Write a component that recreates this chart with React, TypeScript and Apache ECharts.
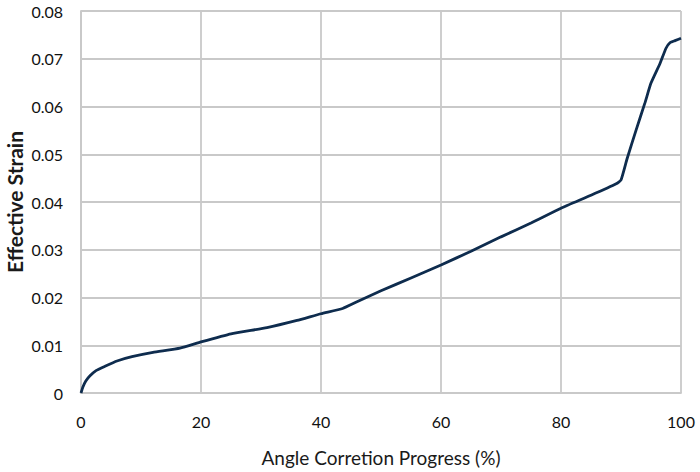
import React, { useEffect, useRef } from "react";
import * as echarts from "echarts";

const progress = [0, 0.3, 0.8, 1.5, 2.5, 4, 6, 8.5, 12, 16.5, 20, 25, 31, 36, 40, 43.6, 46, 50, 55, 60, 65, 70, 75, 80, 85, 89.2, 90, 91, 92.5, 94, 95, 96.5, 97.5, 98.2, 99, 100];
const strain = [0, 0.0012, 0.0025, 0.0036, 0.0047, 0.0056, 0.0067, 0.0076, 0.0085, 0.0094, 0.0107, 0.0124, 0.0137, 0.0152, 0.0166, 0.0177, 0.0191, 0.0214, 0.0241, 0.0268, 0.0297, 0.0327, 0.0356, 0.0387, 0.0414, 0.0438, 0.0446, 0.049, 0.055, 0.0608, 0.0649, 0.069, 0.0722, 0.0734, 0.0738, 0.0743];

const xTitle = "Angle Corretion Progress (%)";
const yTitle = "Effective Strain";

export default function App() {
  const ref = useRef<HTMLDivElement>(null);
  useEffect(() => {
    const chart = echarts.init(ref.current!, null, { renderer: "svg" });
    const font = "Lato, 'Open Sans', sans-serif";
    const gridColor = "#c9c9c9";
    chart.setOption({
      animation: false,
      backgroundColor: "#ffffff",
      grid: { left: 81, right: 19, top: 11, bottom: 79, containLabel: false, outerBoundsMode: "none" },
      xAxis: {
        type: "value",
        min: 0,
        max: 100,
        interval: 20,
        name: xTitle,
        nameLocation: "middle",
        nameGap: 55,
        nameMoveOverlap: false,
        nameTextStyle: { fontFamily: font, fontSize: 19, color: "#1a1a1a" },
        axisLine: { show: true, lineStyle: { color: gridColor, width: 1.8 } },
        axisTick: { show: false },
        axisLabel: { fontFamily: font, fontSize: 16, color: "#111", margin: 20 },
        splitLine: { show: true, lineStyle: { color: gridColor, width: 1.8 } },
      },
      yAxis: {
        type: "value",
        min: 0,
        max: 0.08,
        interval: 0.01,
        name: yTitle,
        nameLocation: "middle",
        nameGap: 56,
        nameMoveOverlap: false,
        nameTextStyle: { fontFamily: font, fontSize: 21, fontWeight: "bold", color: "#1a1a1a" },
        axisLine: { show: true, lineStyle: { color: gridColor, width: 1.8 } },
        axisTick: { show: false },
        axisLabel: {
          fontFamily: font,
          fontSize: 16,
          color: "#111",
          margin: 18,
          formatter: (v: number) => (v === 0 ? "0" : v.toFixed(2)),
        },
        splitLine: { show: true, lineStyle: { color: gridColor, width: 1.8 } },
      },
      series: [
        {
          type: "line",
          data: progress.map((p, i) => [p, strain[i]]),
          showSymbol: false,
          smooth: 0.15,
          lineStyle: { color: "#0e2c4e", width: 2.8 },
        },
      ],
    });
    return () => chart.dispose();
  }, []);
  return <div ref={ref} style={{ width: 700, height: 472, position: "absolute", left: 0, top: 0 }} />;
}
